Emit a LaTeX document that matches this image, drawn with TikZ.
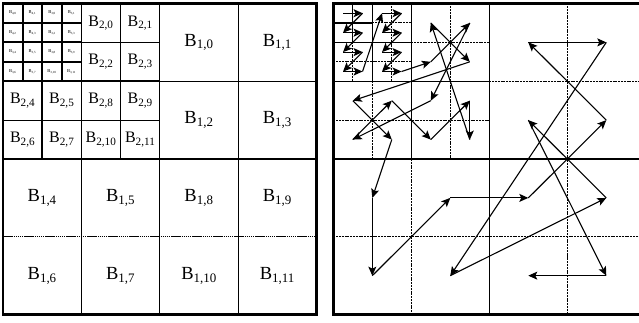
\documentclass[tikz,border=0pt]{standalone}
\usepackage{fontspec}
\setmainfont{Liberation Serif}
\usetikzlibrary{arrows.meta}

\tikzset{
  frame/.style={line width=2.6pt},
  heavy/.style={line width=1.8pt},
  light/.style={line width=1.2pt},
  split/.style={line width=1.1pt, dash pattern=on 2pt off 0.8pt},
  walk/.style={line width=1.1pt, -{Stealth[length=9pt,width=8pt,inset=2pt]}},
  lone/.style={font=\fontsize{18.5}{20}\selectfont},
  ltwo/.style={font=\fontsize{16}{18}\selectfont},
  lthree/.style={font=\fontsize{4.5}{5}\selectfont, inner sep=0pt},
}
% block centres of one level, in units of the finest cell
\newcommand\blockpos{0/10/2,1/14/2,2/10/6,3/14/6,4/2/10,5/6/10,6/2/14,7/6/14,8/10/10,9/14/10,10/10/14,11/14/14}

\begin{document}
\begin{tikzpicture}[x=1pt,y=-1pt]
  \useasboundingbox (0,0) rectangle (639,323);
  \fill[white] (0,0) rectangle (639,323);
  \clip (0,0) rectangle (639,323);

  % labelled blocks
  \begin{scope}[shift={(3pt,-3.5pt)}, x=19.6pt, y=-19.44pt]
    \foreach \n/\x/\y in \blockpos {
      \node[lone] (L1-\n) at (\x,\y) {B\textsubscript{1,\n}};
      \node[ltwo] (L2-\n) at (\x/2,\y/2) {B\textsubscript{2,\n}};
      \node[lthree] (L3-\n) at (\x/4,\y/4) {B\textsubscript{3,\n}};
    }
    \foreach \n/\x/\y in {0/2/2,1/6/2,2/2/6,3/6/6}
      \node[lthree] (L4-\n) at (\x/4,\y/4) {B\textsubscript{4,\n}};
    \draw[light] (4,8) -- (4,16) (8,0) -- (8,16) (12,0) -- (12,16)
      (8,4) -- (16,4) (0,8) -- (16,8) (6,0) -- (6,8) (4,2) -- (8,2) (0,6) -- (8,6);
    \draw[light, dash pattern=on 1.5pt off 0.6pt] (0,12) -- (16,12);
    \draw[heavy] (1,0) -- (1,4) (3,0) -- (3,4) (2,0) -- (2,8) (4,0) -- (4,8)
      (0,1) -- (4,1) (0,2) -- (4,2) (0,3) -- (4,3) (0,4) -- (8,4);
    \draw[frame] (0,0) rectangle (16,16);
  \end{scope}

  % traversal order
  \begin{scope}[shift={(333.3pt,-3.5pt)}, x=19.5pt, y=-19.44pt]
    \foreach \n/\x/\y in \blockpos {
      \coordinate (R1-\n) at (\x,\y);
      \coordinate (R2-\n) at (\x/2,\y/2);
      \coordinate (R3-\n) at (\x/4,\y/4);
    }
    \foreach \n/\x/\y in {0/2/2,1/6/2,2/2/6,3/6/6}
      \coordinate (R4-\n) at (\x/4,\y/4);
    \draw[split] (4,8) -- (4,16) (12,0) -- (12,16) (8,4) -- (16,4) (0,12) -- (16,12)
      (2,4) -- (2,8) (6,0) -- (6,8) (4,2) -- (8,2) (0,6) -- (8,6)
      (1,2) -- (1,4) (3,0) -- (3,4) (2,1) -- (4,1) (0,3) -- (4,3);
    \draw[light] (8,0) -- (8,16) (0,8) -- (16,8) (4,0) -- (4,8) (0,4) -- (8,4)
      (2,0) -- (2,4) (0,2) -- (4,2) (1,0) -- (1,2) (0,1) -- (2,1);
    \draw[frame] (0,0) rectangle (16,16);
    \foreach \b [remember=\b as \a (initially R4-0)] in {R4-1,R4-2,R4-3,
        R3-4,R3-5,R3-6,R3-7,R3-0,R3-1,R3-2,R3-3,R3-8,R3-9,R3-10,R3-11,
        R2-2,R2-1,R2-8,R2-6,R2-5,R2-10,R2-9,R2-11,R2-0,R2-3,R2-4,R2-7,
        R1-4,R1-6,R1-5,R1-8,R1-3,R1-0,R1-1,R1-7,R1-9,R1-2,R1-11,R1-10}
      \draw[walk] (\a) -- (\b);
  \end{scope}
\end{tikzpicture}
\end{document}
